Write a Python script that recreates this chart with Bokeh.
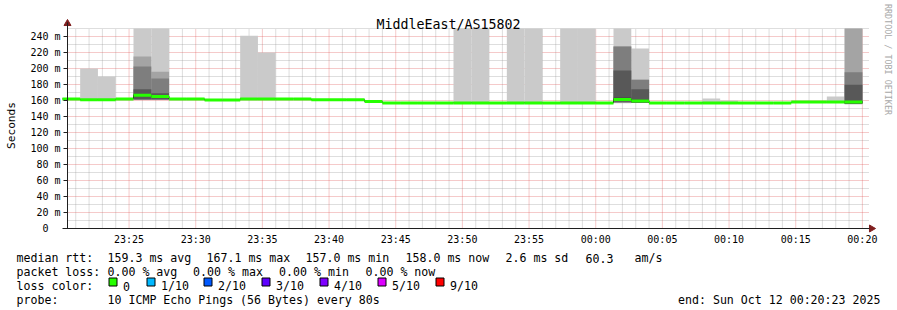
import math
import pandas as pd
from bokeh.plotting import figure
from bokeh.models import Range1d, FixedTicker, DatetimeTickFormatter, ColumnDataSource
from bokeh.core.properties import value
from bokeh.embed import file_html
from bokeh.resources import INLINE

# ---------------- data ----------------
title_text = "MiddleEast/AS15802"
y_axis_label = "Seconds"
watermark_text = "RRDTOOL / TOBI OETIKER"

view_start = "2025-10-11 23:20:23"
view_end = "2025-10-12 00:20:23"
first_step_start = "2025-10-11 23:20:00"
step_seconds = 80
y_upper_limit = 250.0

# median rtt per 80 s step (ms)
median_ms = [162.0, 161.0, 161.0, 162.0, 166.5, 165.0, 162.0, 162.0, 160.5, 160.5,
             162.0, 162.0, 162.0, 162.0, 161.0, 161.0, 161.0, 158.7, 157.0, 157.0,
             157.0, 157.0, 157.0, 157.0, 157.0, 157.0, 157.0, 157.0, 157.0, 157.0,
             157.0, 161.4, 159.4, 157.0, 157.0, 157.0, 157.0, 157.0, 157.0, 157.0,
             157.0, 158.0, 158.0, 158.0, 158.0]

# steps that show "smoke" and their 10 sorted ping times (ms)
smoke_step_index = [1, 2, 4, 5, 10, 11, 22, 23, 25, 26, 28, 29, 31, 32, 36, 37, 43, 44]
smoke_pings = [
    [160.6, 160.7, 160.8, 160.9, 161.0, 161.0, 161.1, 161.2, 161.4, 200.0],
    [160.6, 160.7, 160.8, 160.9, 161.0, 161.0, 161.1, 161.2, 161.4, 190.0],
    [160.5, 160.8, 161.0, 161.5, 165.5, 167.5, 174.0, 202.5, 215.0, 320.0],
    [160.5, 160.8, 161.0, 161.5, 164.0, 166.0, 169.0, 187.5, 196.0, 320.0],
    [161.5, 161.7, 161.8, 161.9, 162.0, 162.0, 162.1, 162.2, 162.4, 241.0],
    [161.5, 161.7, 161.8, 161.9, 162.0, 162.0, 162.1, 162.2, 162.4, 220.0],
    [156.6, 156.7, 156.8, 156.9, 157.0, 157.0, 157.1, 157.2, 157.4, 380.0],
    [156.6, 156.7, 156.8, 156.9, 157.0, 157.0, 157.1, 157.2, 157.4, 420.0],
    [156.6, 156.7, 156.8, 156.9, 157.0, 157.0, 157.1, 157.2, 157.4, 360.0],
    [156.6, 156.7, 156.8, 156.9, 157.0, 157.0, 157.1, 157.2, 157.4, 400.0],
    [156.6, 156.7, 156.8, 156.9, 157.0, 157.0, 157.1, 157.2, 157.4, 390.0],
    [156.6, 156.7, 156.8, 156.9, 157.0, 157.0, 157.1, 157.2, 157.4, 370.0],
    [156.5, 157.0, 157.5, 158.5, 159.5, 163.3, 197.5, 227.5, 227.5, 330.0],
    [157.0, 157.0, 157.0, 157.5, 157.8, 161.0, 174.0, 186.0, 186.0, 225.0],
    [156.6, 156.7, 156.8, 156.9, 157.0, 157.0, 157.1, 157.2, 157.4, 162.5],
    [156.6, 156.7, 156.8, 156.9, 157.0, 157.0, 157.1, 157.2, 157.4, 160.0],
    [157.6, 157.7, 157.8, 157.9, 158.0, 158.0, 158.1, 158.2, 158.4, 165.0],
    [155.0, 155.5, 156.0, 156.0, 156.5, 159.5, 179.6, 195.4, 300.0, 320.0],
]

y_tick_values = [0, 20, 40, 60, 80, 100, 120, 140, 160, 180, 200, 220, 240]
y_tick_labels = ["0", "20 m", "40 m", "60 m", "80 m", "100 m", "120 m", "140 m",
                 "160 m", "180 m", "200 m", "220 m", "240 m"]
y_minor_values = [10, 30, 50, 70, 90, 110, 130, 150, 170, 190, 210, 230, 250]
x_major_ticks = ["23:25", "23:30", "23:35", "23:40", "23:45", "23:50", "23:55",
                 "00:00", "00:05", "00:10", "00:15", "00:20"]

legend_line1 = ["median rtt:", "159.3 ms avg", "167.1 ms max", "157.0 ms min",
                "158.0 ms now", "2.6 ms sd", "60.3", "am/s"]
legend_line2 = ["packet loss:", "0.00 % avg", "0.00 % max", "0.00 % min", "0.00 % now"]
legend_line3_title = "loss color:"
loss_labels = ["0", "1/10", "2/10", "3/10", "4/10", "5/10", "9/10"]
loss_colors = ["#26ff00", "#00b8ff", "#0059ff", "#5e00ff", "#7e00ff", "#dd00ff", "#ff0000"]
legend_line4 = ["probe:", "10 ICMP Echo Pings (56 Bytes) every 80s"]
end_text = "end: Sun Oct 12 00:20:23 2025"

# ---------------- layout constants (canvas pixels) ----------------
W, H = 897, 310
AX_X = 67          # y axis position
AX_Y = 228         # x axis position
PX_PER_MS = 0.8
MONO = "DejaVu Sans Mono"
smoke_shades = ["#cacaca", "#a4a4a4", "#7e7e7e", "#585858", "#323232"]


def ms(ts):
    return pd.Timestamp(ts).value / 1e6


T0 = ms(view_start)
MS_PER_PX = (ms(view_end) - T0) / 800.0


def px_to_t(xpx):
    return T0 + (xpx - AX_X) * MS_PER_PX


def row_to_v(row):
    return (AX_Y - row) / PX_PER_MS


t0 = pd.Timestamp(first_step_start)
edges = [ms(t0 + pd.Timedelta(seconds=step_seconds * i)) for i in range(len(median_ms) + 1)]

p = figure(width=W, height=H, x_axis_type="datetime", output_backend="svg",
           toolbar_location=None, title=None,
           x_range=Range1d(px_to_t(0), px_to_t(W)),
           y_range=Range1d(row_to_v(H), row_to_v(0)),
           min_border=0)
p.outline_line_color = None
p.background_fill_color = "#ffffff"
p.border_fill_color = "#ffffff"
p.xgrid.visible = False
p.ygrid.visible = False


def hm_to_ms(label):
    hh, mm = label.split(":")
    day = "2025-10-11" if int(hh) >= 12 else "2025-10-12"
    return ms(f"{day} {hh}:{mm}:00")


x_major = [hm_to_ms(s) for s in x_major_ticks]
x_minor = []
m = ms("2025-10-11 23:21:00")
while m <= ms(view_end):
    if m not in x_major:
        x_minor.append(m)
    m += 60000

# axes (fixed in the graph area)
p.xaxis.ticker = FixedTicker(ticks=x_major, minor_ticks=[])
p.xaxis.formatter = DatetimeTickFormatter(seconds="%H:%M", minsec="%H:%M", minutes="%H:%M",
                                          hourmin="%H:%M", hours="%H:%M", days="%H:%M")
p.xaxis.fixed_location = 0
p.xaxis.bounds = (px_to_t(62), px_to_t(869))
p.yaxis.ticker = FixedTicker(ticks=y_tick_values, minor_ticks=[])
p.yaxis.major_label_overrides = {
    v: (lab if " " in lab else lab + "\u00a0\u00a0") for v, lab in zip(y_tick_values, y_tick_labels)
}
p.yaxis.fixed_location = T0
p.yaxis.bounds = (0, row_to_v(22))

for ax in (p.xaxis[0], p.yaxis[0]):
    ax.axis_line_color = "#1f1f1f"
    ax.major_label_text_font = MONO
    ax.major_label_text_font_size = "10px"
    ax.major_label_text_color = "#000000"
    ax.minor_tick_line_color = None
    ax.major_tick_line_color = "#1f1f1f"
    ax.major_tick_in = 0

p.yaxis.major_tick_out = 4
p.yaxis.major_label_standoff = 3
p.yaxis.axis_label = y_axis_label
p.yaxis.axis_label_text_font = MONO
p.yaxis.axis_label_text_font_size = "11.2px"
p.yaxis.axis_label_text_font_style = "normal"
p.yaxis.axis_label_text_color = "#000000"
p.yaxis.axis_label_standoff = 9
p.xaxis.major_tick_out = 0
p.xaxis.major_label_standoff = 5

# grid (dotted segments limited to the graph area)
grid_x_end = px_to_t(868)
p.segment(x0=x_minor, x1=x_minor, y0=[0] * len(x_minor), y1=[y_upper_limit] * len(x_minor),
          line_color="#8f8f8f", line_alpha=0.6, line_dash="1 1", line_width=1)
p.segment(x0=[T0] * len(y_minor_values), x1=[grid_x_end] * len(y_minor_values),
          y0=y_minor_values, y1=y_minor_values,
          line_color="#8f8f8f", line_alpha=0.6, line_dash="1 1", line_width=1)
p.segment(x0=x_major, x1=x_major, y0=[0] * len(x_major), y1=[y_upper_limit] * len(x_major),
          line_color="#de4f4f", line_alpha=0.6, line_dash="1 1", line_width=1)
p.segment(x0=[T0] * (len(y_tick_values) - 1), x1=[grid_x_end] * (len(y_tick_values) - 1),
          y0=y_tick_values[1:], y1=y_tick_values[1:],
          line_color="#de4f4f", line_alpha=0.6, line_dash="1 1", line_width=1)

# smoke
q = dict(left=[], right=[], bottom=[], top=[], color=[])
for b, shade in enumerate(smoke_shades):
    for idx, pings in zip(smoke_step_index, smoke_pings):
        s = sorted(pings)
        lo, hi = s[b], min(s[9 - b], y_upper_limit)
        if hi - lo <= 0:
            continue
        q["left"].append(edges[idx])
        q["right"].append(edges[idx + 1])
        q["bottom"].append(lo)
        q["top"].append(hi)
        q["color"].append(shade)
p.quad(source=ColumnDataSource(q), left="left", right="right", bottom="bottom", top="top",
       fill_color="color", line_color=None)

# median line
p.step(x=edges, y=median_ms + [median_ms[-1]], mode="after", line_color="#202020", line_width=1)
p.segment(x0=edges[:-1], x1=edges[1:], y0=median_ms, y1=median_ms,
          line_color=loss_colors[0], line_width=3, line_cap="butt")

# axis arrows
p.scatter(x=[T0], y=[row_to_v(23)], marker="triangle", size=7,
          fill_color="#801f1f", line_color="#801f1f")
p.scatter(x=[px_to_t(871)], y=[0], marker="triangle", size=7, angle=-math.pi / 2,
          fill_color="#801f1f", line_color="#801f1f")

# title & watermark
p.text(x=[px_to_t(448)], y=[row_to_v(24)], text=[title_text], text_font=value(MONO),
       text_font_size=value("13.3px"), text_align="center", text_baseline="alphabetic",
       text_color="#000000")
p.text(x=[px_to_t(887.5)], y=[row_to_v(59)], text=[watermark_text], text_font=value(MONO),
       text_font_size=value("8.4px"), text_align="center", text_baseline="middle",
       text_color="#a8a8a8", angle=-math.pi / 2)

# ---------------- legend below the graph ----------------
base = [257.5, 271.6, 285.8, 299.9]
tx, ty, tt = [], [], []
for x, t in zip([16, 107, 206, 305, 405, 505, 585, 634], legend_line1):
    tx.append(x); ty.append(base[0]); tt.append(t)
for x, t in zip([16, 107, 192.6, 278.6, 365], legend_line2):
    tx.append(x); ty.append(base[1]); tt.append(t)
tx.append(16); ty.append(base[2]); tt.append(legend_line3_title)
box_x = [108, 146, 203, 261, 319, 377, 435]
for bx, lab in zip(box_x, loss_labels):
    tx.append(bx + 14.5); ty.append(base[2]); tt.append(lab)
for x, t in zip([16, 107], legend_line4):
    tx.append(x); ty.append(base[3]); tt.append(t)
tx.append(677.5); ty.append(base[3]); tt.append(end_text)

p.text(x=[px_to_t(x) for x in tx], y=[row_to_v(y) for y in ty], text=tt,
       text_font=value(MONO), text_font_size=value("11.6px"),
       text_align="left", text_baseline="alphabetic", text_color="#000000")
p.quad(left=[px_to_t(bx + 0.5) for bx in box_x], right=[px_to_t(bx + 8.5) for bx in box_x],
       top=[row_to_v(277.5)] * len(box_x), bottom=[row_to_v(285.5)] * len(box_x),
       fill_color=loss_colors, line_color="#000000", line_width=1)

open("out.html", "w").write(file_html(p, INLINE))
